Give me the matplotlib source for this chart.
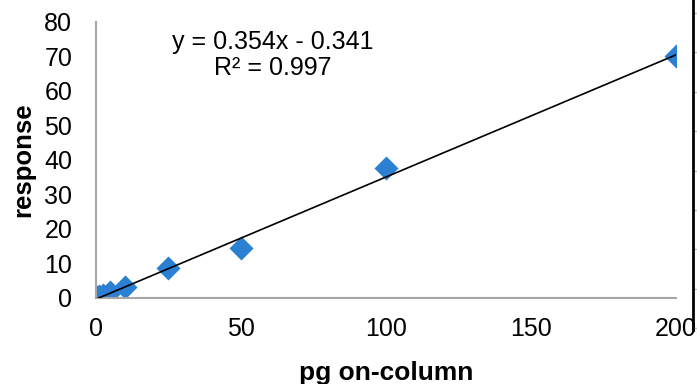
import numpy as np
import matplotlib.pyplot as plt

plt.rcParams['font.family'] = ['Liberation Sans', 'DejaVu Sans']

# calibration points
pg = [0.5, 1, 2.5, 5, 10, 25, 50, 100, 200]
response = [0.2, 0.5, 1.0, 1.8, 3.3, 8.7, 14.5, 37.7, 70.1]

# trendline as printed on the chart
slope = 0.354
intercept = -0.341
r2 = 0.997

fig = plt.figure(figsize=(6.97, 3.84), dpi=100)
ax = fig.add_axes([0.1377, 0.224, 0.8323, 0.719])

ax.scatter(pg, response, marker='D', s=150, color='#2b80d3', zorder=2, linewidths=0)

# linear trendline across the data range
xs = np.array([min(pg), max(pg)])
ax.plot(xs, slope * xs + intercept, color='black', lw=1.2, zorder=3)

ax.set_xlim(0, 200)
ax.set_ylim(0, 80)
ax.set_xticks([0, 50, 100, 150, 200])
ax.set_yticks(range(0, 81, 10))
ax.tick_params(length=0, labelsize=18)
ax.tick_params(axis='y', pad=17)
ax.tick_params(axis='x', pad=14)

for s in ['top', 'right']:
    ax.spines[s].set_visible(False)
for s in ['left', 'bottom']:
    ax.spines[s].set_color('#a6a6a6')
    ax.spines[s].set_linewidth(1.5)

ax.set_xlabel('pg on-column', fontsize=19, fontweight='bold', labelpad=14)
ax.set_ylabel('response', fontsize=18.5, fontweight='bold')
ax.yaxis.set_label_coords(-0.104, 0.5)

ax.text(0.305, 0.88, 'y = %.3fx - %.3f\nR² = %.3f' % (slope, -intercept, r2),
        transform=ax.transAxes, ha='center', va='center', multialignment='center',
        fontsize=18, linespacing=1.1)

# edge of a neighbouring axis cut off at the right border
edge = fig.add_axes([0.9943 - 0.01, 0.141, 0.01, 0.859])
edge.set_ylim(330, 0)
edge.set_xticks([])
edge.set_yticks(np.arange(13, 330, 39.4))
edge.yaxis.tick_right()
edge.tick_params(axis='y', length=4, color='#bfbfbf', labelright=False, width=1)
for s in ['top', 'left', 'bottom']:
    edge.spines[s].set_visible(False)
edge.spines['right'].set_color('black')
edge.spines['right'].set_linewidth(2)
edge.patch.set_visible(False)

fig.savefig('out.png', dpi=100)
